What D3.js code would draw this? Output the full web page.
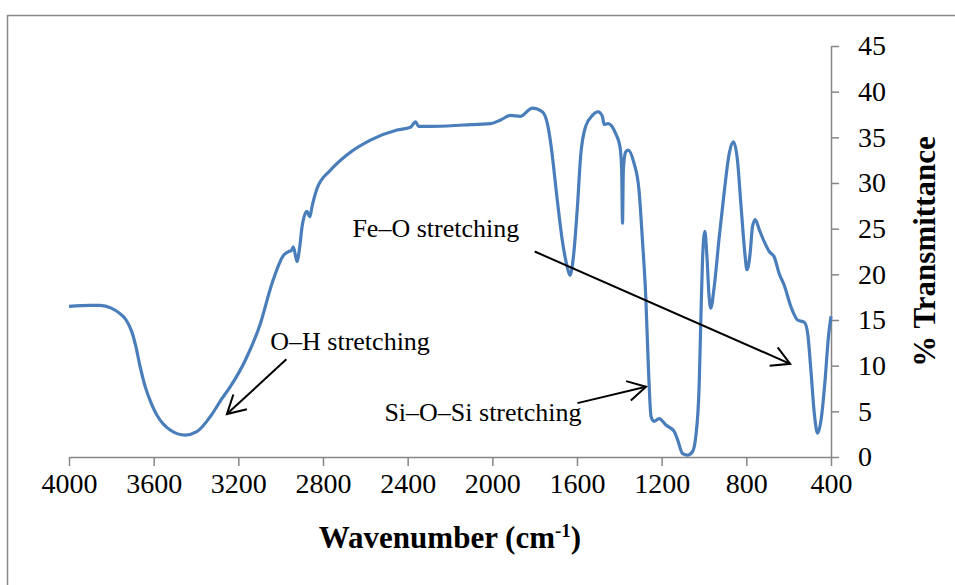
<!DOCTYPE html>
<html>
<head>
<meta charset="utf-8">
<script src="https://cdn.jsdelivr.net/npm/d3@7"></script>
<style>
  body { margin: 0; background: #fff; }
  text { font-family: "Liberation Serif", "Times New Roman", serif; fill: #000; }
  .axis path, .axis line { stroke: #868686; stroke-width: 1.5; }
  .axis text { font-size: 28px; }
</style>
</head>
<body>
<svg id="chart" width="955" height="585"></svg>
<script>
// FTIR spectrum
var wavenumber = [4000, 3900, 3853, 3800, 3759, 3730, 3703, 3685, 3665, 3640, 3610, 3585, 3522, 3451, 3396, 3333, 3280, 3238,
  3167, 3096, 3041, 2986, 2962, 2950, 2940, 2923, 2910, 2899, 2876, 2862, 2852, 2828, 2765, 2686, 2576, 2450,
  2387, 2363, 2348, 2292, 2135, 2008, 1961, 1914, 1867, 1811, 1764, 1740, 1725, 1693, 1670, 1646, 1633, 1617,
  1598, 1583, 1559, 1527, 1501, 1480, 1472, 1453, 1417, 1397, 1389, 1385, 1381, 1370, 1359, 1331, 1307, 1291,
  1275, 1262, 1250, 1236, 1212, 1180, 1141, 1125, 1102, 1078, 1054, 1039, 1023, 1015, 1007, 996, 987, 976, 968,
  952, 928, 905, 881, 861, 842, 826, 807, 797, 782, 771, 758, 739, 716, 692, 668, 645, 621, 590, 558, 526, 510,
  495, 479, 463, 447, 428, 412, 400];
var transmittance = [16.5, 16.6, 16.6, 16.3, 15.7, 15.0, 13.7, 12.2, 10.0, 7.7, 5.8, 4.6, 2.96, 2.4, 2.77, 4.4, 6.3, 7.7,
  10.6, 14.6, 19.0, 22.1, 22.5, 22.6, 23.0, 21.4, 23.0, 25.2, 26.9, 26.3, 27.4, 29.4, 31.4, 33.1, 34.7, 35.8,
  36.1, 36.7, 36.2, 36.2, 36.35, 36.5, 36.9, 37.4, 37.3, 38.2, 37.8, 36.5, 34.5, 28.1, 23.8, 20.8, 19.9, 21.9,
  27.4, 32.9, 36.2, 37.4, 37.8, 37.3, 36.4, 36.5, 35.4, 34.0, 31.5, 25.6, 31.5, 33.4, 33.6, 32.2, 29.2, 23.8,
  17.5, 9.4, 4.4, 3.9, 4.2, 3.5, 2.8, 1.9, 0.4, 0.2, 0.6, 2.2, 7.7, 15.0, 21.6, 24.7, 22.3, 17.6, 16.3,
  18.6, 24.1, 28.9, 33.2, 34.5, 32.5, 27.8, 22.3, 20.5, 22.3, 25.2, 26.0, 24.9, 23.6, 22.5, 21.9, 20.1, 18.8, 16.5, 15.0, 14.75, 13.5,
  9.5, 4.8, 2.6, 4.05, 8.4, 13.2, 15.4];

var xTicks = [4000, 3600, 3200, 2800, 2400, 2000, 1600, 1200, 800, 400];
var yTicks = [0, 5, 10, 15, 20, 25, 30, 35, 40, 45];

// annotations: label [wavenumber, %T], arrow from -> to
var noteLabels = ["O\u2013H stretching", "Fe\u2013O stretching", "Si\u2013O\u2013Si stretching"];
var noteTextPos = [[3049, 11.75], [2661, 24.1], [2510, 3.9]];
var noteArrowFrom = [[2973, 10.7], [1800, 22.5], [1598, 5.9]];
var noteArrowTo = [[3254, 4.7], [593, 10.2], [1274, 7.7]];

var svg = d3.select("#chart");

// outer chart frame (runs off the right and bottom edge)
svg.append("rect")
  .attr("x", 7.5).attr("y", 15.5)
  .attr("width", 1000).attr("height", 700)
  .attr("fill", "none")
  .attr("stroke", "#898989")
  .attr("stroke-width", 1.5);

var x = d3.scaleLinear().domain([4000, 400]).range([69, 831]);
var y = d3.scaleLinear().domain([0, 45]).range([457, 46]);

svg.append("g")
  .attr("class", "axis")
  .attr("transform", "translate(0," + y(0) + ")")
  .call(d3.axisBottom(x).tickValues(xTicks).tickFormat(d3.format("d"))
    .tickSize(9).tickSizeOuter(0).tickPadding(7));

svg.append("g")
  .attr("class", "axis")
  .attr("transform", "translate(" + x(400) + ",0)")
  .call(d3.axisRight(y).tickValues(yTicks).tickFormat(d3.format("d"))
    .tickSize(8).tickSizeOuter(0).tickPadding(19));

// spectrum
var pts = wavenumber.map(function(w, i) { return [w, transmittance[i]]; });
var line = d3.line()
  .x(function(d) { return x(d[0]); })
  .y(function(d) { return y(d[1]); })
  .curve(d3.curveMonotoneX);

svg.append("path")
  .datum(pts)
  .attr("d", line)
  .attr("fill", "none")
  .attr("stroke", "#4a7ebb")
  .attr("stroke-width", 3.2)
  .attr("stroke-linejoin", "round");

// arrowhead marker (open V)
svg.append("defs").append("marker")
  .attr("id", "head")
  .attr("markerUnits", "userSpaceOnUse")
  .attr("viewBox", "-20 -12 22 24")
  .attr("markerWidth", 22).attr("markerHeight", 24)
  .attr("refX", 0).attr("refY", 0)
  .attr("orient", "auto")
  .append("path")
  .attr("d", "M-18,-10 L0,0 L-18,10")
  .attr("fill", "none")
  .attr("stroke", "#000")
  .attr("stroke-width", 2);

for (var i = 0; i < noteLabels.length; i++) {
  svg.append("line")
    .attr("x1", x(noteArrowFrom[i][0])).attr("y1", y(noteArrowFrom[i][1]))
    .attr("x2", x(noteArrowTo[i][0])).attr("y2", y(noteArrowTo[i][1]))
    .attr("stroke", "#000")
    .attr("stroke-width", 2)
    .attr("marker-end", "url(#head)");
  svg.append("text")
    .attr("x", x(noteTextPos[i][0]))
    .attr("y", y(noteTextPos[i][1]))
    .style("font-size", "26px")
    .text(noteLabels[i]);
}

// axis titles
var xt = svg.append("text")
  .attr("x", (x(4000) + x(400)) / 2)
  .attr("y", 548)
  .attr("text-anchor", "middle")
  .style("font-size", "31px")
  .style("font-weight", "bold");
xt.append("tspan").text("Wavenumber (cm");
xt.append("tspan").attr("dy", -11).style("font-size", "19px").text("-1");
xt.append("tspan").attr("dy", 11).text(")");

svg.append("text")
  .attr("transform", "translate(935," + (y(0) + y(45)) / 2 + ") rotate(-90)")
  .attr("text-anchor", "middle")
  .style("font-size", "31px")
  .style("font-weight", "bold")
  .text("% Transmittance");
</script>
</body>
</html>
